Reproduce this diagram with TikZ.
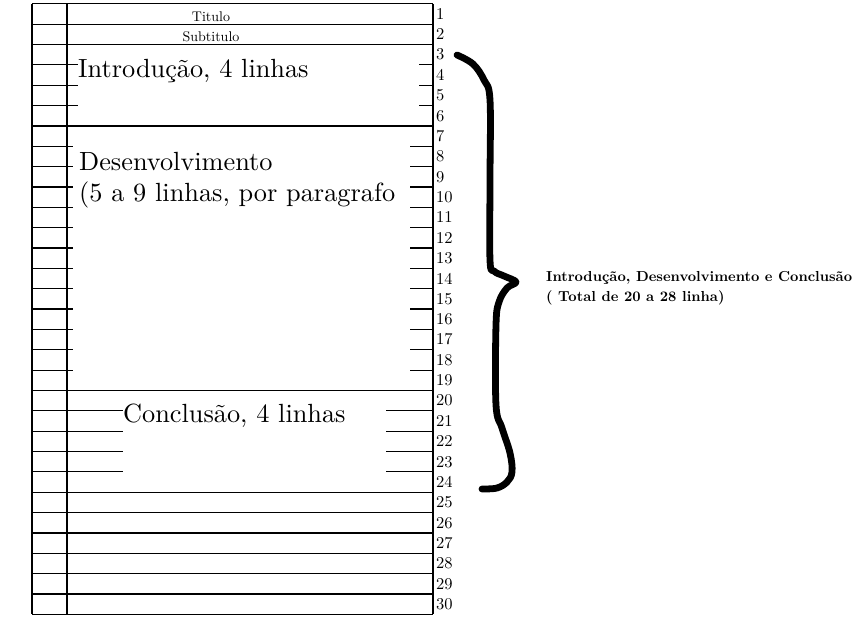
\documentclass[tikz,border=0pt]{standalone}
\usepackage{fontspec}
\setmainfont{lmroman10-regular.otf}[BoldFont=lmroman10-bold.otf]
\usepackage{xcolor}
\usepackage{tikz}
\definecolor{ink}{HTML}{000000}
\definecolor{paper}{HTML}{FFFFFF}
\tikzset{
  rule/.style={draw=ink, line width=1.2pt},
  bigtxt/.style={text=ink, inner sep=0pt, font=\fontsize{26.3}{31}\selectfont},
  smalltxt/.style={text=ink, inner sep=0pt, font=\fontsize{14}{16}\selectfont},
  numtxt/.style={text=ink, inner sep=0pt, font=\fontsize{16.5}{18}\selectfont},
  notetxt/.style={text=ink, inner sep=0pt, font=\bfseries\fontsize{14.5}{17}\selectfont},
  bracestroke/.style={draw=ink, line width=6.8pt, line cap=round, line join=round}
}

\begin{document}
\begin{tikzpicture}[x=1pt,y=-1pt]
  \fill[paper] (0,0) rectangle (858,630);
  \useasboundingbox (0,0) rectangle (858,630);

  \def\yo{3.8}
  \def\rh{20.35}
  \def\xl{32}
  \def\xm{67}
  \def\xr{433}

  % margin column, one line per row
  \foreach \k in {0,...,30}
    \draw[rule] (\xl,\yo+\k*\rh) -- (\xm,\yo+\k*\rh);
  % full width lines
  \foreach \k in {0,1,2,6,19,24,25,26,27,28,29,30}
    \draw[rule] (\xm,\yo+\k*\rh) -- (\xr,\yo+\k*\rh);

  % short lines beside the blocks
  \foreach \k in {3,4,5} {
    \draw[rule] (\xm,\yo+\k*\rh) -- (78,\yo+\k*\rh);
    \draw[rule] (419,\yo+\k*\rh) -- (\xr,\yo+\k*\rh);
  }
  \foreach \k in {7,...,18} {
    \draw[rule] (\xm,\yo+\k*\rh) -- (73,\yo+\k*\rh);
    \draw[rule] (410,\yo+\k*\rh) -- (\xr,\yo+\k*\rh);
  }
  \foreach \k in {20,...,23} {
    \draw[rule] (\xm,\yo+\k*\rh) -- (123,\yo+\k*\rh);
    \draw[rule] (386,\yo+\k*\rh) -- (\xr,\yo+\k*\rh);
  }

  % verticals
  \draw[rule] (\xl,\yo) -- (\xl,\yo+30*\rh);
  \draw[rule] (\xm,\yo) -- (\xm,\yo+30*\rh);
  \draw[rule] (\xr,\yo) -- (\xr,\yo+30*\rh);

  % line numbers
  \foreach \k in {1,...,30}
    \node[numtxt, anchor=west] (n\k) at (436,\yo+\k*\rh-0.5*\rh) {\k};

  \node[smalltxt, anchor=base] (titulo) at (211,21) {Titulo};
  \node[smalltxt, anchor=base] (subtitulo) at (211,41) {Subtitulo};
  \node[bigtxt, anchor=base west] (intro) at (78,77) {Introdução, 4 linhas};
  \node[bigtxt, anchor=base west] (desenv) at (79,170.7) {Desenvolvimento};
  \node[bigtxt, anchor=base west] (desenvpar) at (79,201.7) {(5 a 9 linhas, por paragrafo};
  \node[bigtxt, anchor=base west] (concl) at (123,422.7) {Conclusão, 4 linhas};

  % hand drawn brace
  \draw[bracestroke] plot[smooth, tension=0.6] coordinates {
    (457,55) (473,64) (484,80) (490,100) (490,180) (490,260)
    (494,271) (504,276) (516,282) (507,288) (499,302) (496,325)
    (496,405) (502,428) (510,453) (512,472) (507,482) (497,488) (482,489)};

  \node[notetxt, anchor=base west] (nota) at (546,281) {Introdução, Desenvolvimento e Conclusão};
  \node[notetxt, anchor=base west] (notab) at (546,301) {( Total de 20 a 28 linha)};
\end{tikzpicture}
\end{document}
